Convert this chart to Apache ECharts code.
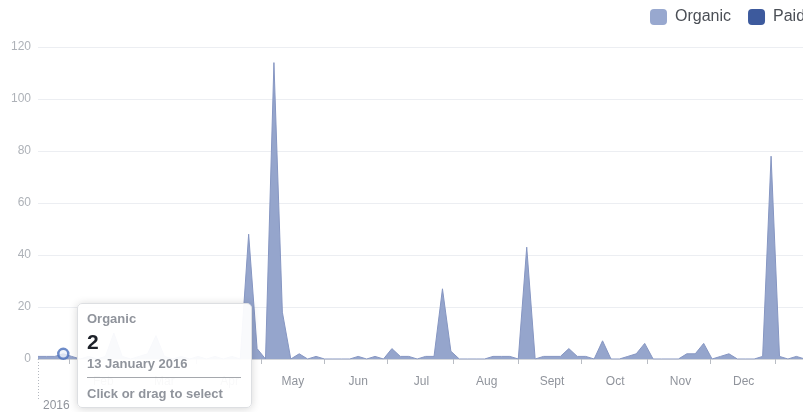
<!DOCTYPE html>
<html>
<head>
<meta charset="utf-8">
<script src="https://cdn.jsdelivr.net/npm/echarts@6/dist/echarts.min.js"></script>
<style>
  html, body { margin: 0; padding: 0; background: #fff; }
  #chart { width: 803px; height: 412px; }
</style>
</head>
<body>
<div id="chart"></div>
<script>
// Sample dates (every 4 days through 2016)
const dates = [
  '2016-01-01','2016-01-05','2016-01-09','2016-01-13','2016-01-17','2016-01-21','2016-01-25','2016-01-29',
  '2016-02-02','2016-02-06','2016-02-10','2016-02-14','2016-02-18','2016-02-22','2016-02-26',
  '2016-03-01','2016-03-05','2016-03-09','2016-03-13','2016-03-17','2016-03-21','2016-03-25','2016-03-29',
  '2016-04-02','2016-04-06','2016-04-10','2016-04-14','2016-04-18','2016-04-22','2016-04-26','2016-04-30',
  '2016-05-04','2016-05-08','2016-05-12','2016-05-16','2016-05-20','2016-05-24','2016-05-28',
  '2016-06-01','2016-06-05','2016-06-09','2016-06-13','2016-06-17','2016-06-21','2016-06-25','2016-06-29',
  '2016-07-03','2016-07-07','2016-07-11','2016-07-15','2016-07-19','2016-07-23','2016-07-27','2016-07-31',
  '2016-08-04','2016-08-08','2016-08-12','2016-08-16','2016-08-20','2016-08-24','2016-08-28',
  '2016-09-01','2016-09-05','2016-09-09','2016-09-13','2016-09-17','2016-09-21','2016-09-25','2016-09-29',
  '2016-10-03','2016-10-07','2016-10-11','2016-10-15','2016-10-19','2016-10-23','2016-10-27','2016-10-31',
  '2016-11-04','2016-11-08','2016-11-12','2016-11-16','2016-11-20','2016-11-24','2016-11-28',
  '2016-12-02','2016-12-06','2016-12-10','2016-12-14','2016-12-18','2016-12-22','2016-12-26','2016-12-30'
];
// Organic values
const organicValues = [
  1,1,1,2,1,0,1,0,
  1,10,1,0,1,2,9,
  1,0,1,0,1,0,1,0,
  1,0,48,4,0,114,18,0,
  2,0,1,0,0,0,0,
  1,0,1,0,4,1,1,0,
  1,1,27,3,0,0,0,0,
  1,1,1,0,43,0,1,
  1,1,4,1,1,0,7,0,
  0,1,2,6,0,0,0,0,
  2,2,6,0,1,2,0,
  0,0,1,78,1,0,1,0
];
const paidValues = [];
const seriesNames = ['Organic', 'Paid'];
const yTicks = [0, 20, 40, 60, 80, 100, 120];
const monthStarts = ['2016-02-01','2016-03-01','2016-04-01','2016-05-01','2016-06-01','2016-07-01',
                     '2016-08-01','2016-09-01','2016-10-01','2016-11-01','2016-12-01'];
const monthLabels = ['Feb','Mar','Apr','May','Jun','Jul','Aug','Sept','Oct','Nov','Dec'];
const monthTicks = ['2016-01-16','2016-02-16','2016-03-16','2016-04-16','2016-05-16','2016-06-15',
                    '2016-07-16','2016-08-16','2016-09-15','2016-10-16','2016-11-15','2016-12-16'];
const yearStart = '2016-01-01';
const yearLabel = '2016';
const rangeStart = '2016-01-01';
const rangeEnd = '2017-01-01';
const hoverIndex = 3;
const fullMonthNames = ['January','February','March','April','May','June','July','August','September','October','November','December'];

function ts(s) { const p = s.split('-').map(Number); return Date.UTC(p[0], p[1] - 1, p[2]); }
function longDate(s) { const p = s.split('-').map(Number); return p[2] + ' ' + fullMonthNames[p[1] - 1] + ' ' + p[0]; }

const monthStartTs = monthStarts.map(ts);
const organicData = dates.map((d, i) => [ts(d), organicValues[i]]);
const paidData = paidValues.map((v, i) => [ts(dates[i]), v]);

const FONT = 'Helvetica, Arial, "Liberation Sans", sans-serif';
const CSSFONT = "Helvetica, Arial, 'Liberation Sans', sans-serif";
const chart = echarts.init(document.getElementById('chart'), null, { renderer: 'canvas' });

chart.setOption({
  animation: false,
  backgroundColor: '#ffffff',
  textStyle: { fontFamily: FONT },
  legend: {
    orient: 'horizontal',
    left: 650, top: 9, width: 400, padding: 0,
    itemWidth: 17, itemHeight: 16, itemGap: 17,
    icon: 'roundRect',
    textStyle: { fontSize: 16, color: '#4b4f56', fontFamily: FONT, padding: [0, 0, 0, 3] },
    data: [
      { name: seriesNames[0], itemStyle: { color: '#98a8cf' } },
      { name: seriesNames[1], itemStyle: { color: '#3d5a9d' } }
    ]
  },
  grid: { left: 38, right: -6, top: 47, bottom: 53, containLabel: false, outerBoundsMode: 'none' },
  tooltip: {
    trigger: 'item',
    triggerOn: 'none',
    alwaysShowContent: true,
    transitionDuration: 0,
    showDelay: 0,
    position: function () { return [77, 303]; },
    backgroundColor: 'rgba(255,255,255,0.94)',
    borderColor: '#dddfe2',
    borderWidth: 1,
    padding: [7, 10, 5, 9],
    extraCssText: 'box-shadow: 0 1px 8px rgba(0,0,0,0.16); border-radius: 5px; width: 154px;',
    formatter: function () {
      const g = 'color:#90949c;font-weight:bold;font-size:13px;line-height:16px;font-family:' + CSSFONT + ';';
      return '<div style="' + g + '">' + seriesNames[0] + '</div>' +
        '<div style="color:#1d2129;font-weight:bold;font-size:21px;line-height:24px;margin-top:3px;font-family:' + CSSFONT + ';">' + organicValues[hoverIndex] + '</div>' +
        '<div style="' + g + 'margin-top:2px;padding-bottom:5px;border-bottom:1px solid #a5a8ad;">' + longDate(dates[hoverIndex]) + '</div>' +
        '<div style="' + g + 'margin-top:8px;">Click or drag to select</div>';
    }
  },
  xAxis: [
    {
      type: 'value',
      position: 'bottom',
      min: ts(rangeStart), max: ts(rangeEnd),
      axisLine: { show: true, lineStyle: { color: '#d3d6db', width: 1 } },
      axisTick: { show: true, length: 5, lineStyle: { color: '#b9bdc4' }, customValues: monthTicks.map(ts) },
      axisLabel: {
        show: true, color: '#90949c', fontSize: 12, margin: 17, fontFamily: FONT,
        customValues: monthStartTs,
        hideOverlap: false,
        formatter: function (v) { const i = monthStartTs.indexOf(v); return i >= 0 ? monthLabels[i] : ''; }
      },
      splitLine: { show: false }
    },
    {
      type: 'value',
      position: 'bottom',
      min: ts(rangeStart), max: ts(rangeEnd),
      axisLine: { show: false },
      axisTick: { show: true, length: 40, lineStyle: { color: '#b4b8bf', type: [1, 2] }, customValues: [ts(yearStart)] },
      axisLabel: {
        show: true, color: '#90949c', fontSize: 12, margin: 41, align: 'left', padding: [0, 0, 0, 5], fontFamily: FONT,
        customValues: [ts(yearStart)],
        formatter: function () { return yearLabel; }
      },
      splitLine: { show: false }
    }
  ],
  yAxis: {
    type: 'value',
    min: yTicks[0], max: yTicks[yTicks.length - 1], interval: yTicks[1] - yTicks[0],
    axisLine: { show: false },
    axisTick: { show: false },
    axisLabel: { color: '#aeb2b8', fontSize: 12, margin: 7, fontFamily: FONT },
    splitLine: { lineStyle: { color: '#eceef2', width: 1 } }
  },
  series: [
    {
      name: seriesNames[0],
      type: 'line',
      xAxisIndex: 0,
      data: organicData,
      showSymbol: false,
      symbol: 'none',
      color: '#98a8cf',
      lineStyle: { color: '#8696c2', width: 1 },
      areaStyle: { color: '#95a5cc', opacity: 1 },
      emphasis: { disabled: true },
      z: 2
    },
    {
      name: seriesNames[1],
      type: 'line',
      xAxisIndex: 0,
      data: paidData,
      showSymbol: false,
      color: '#3d5a9d',
      areaStyle: { color: '#3d5a9d', opacity: 1 },
      z: 1
    },
    {
      name: 'focus',
      type: 'scatter',
      xAxisIndex: 0,
      data: [[ts(dates[hoverIndex]), organicValues[hoverIndex]]],
      symbol: 'circle',
      symbolSize: 10,
      itemStyle: { color: '#eef2fa', borderColor: '#4a6fbb', borderWidth: 2.5 },
      emphasis: { disabled: true, scale: false },
      z: 5
    }
  ]
});

chart.dispatchAction({ type: 'showTip', seriesIndex: 2, dataIndex: 0 });
</script>
</body>
</html>
